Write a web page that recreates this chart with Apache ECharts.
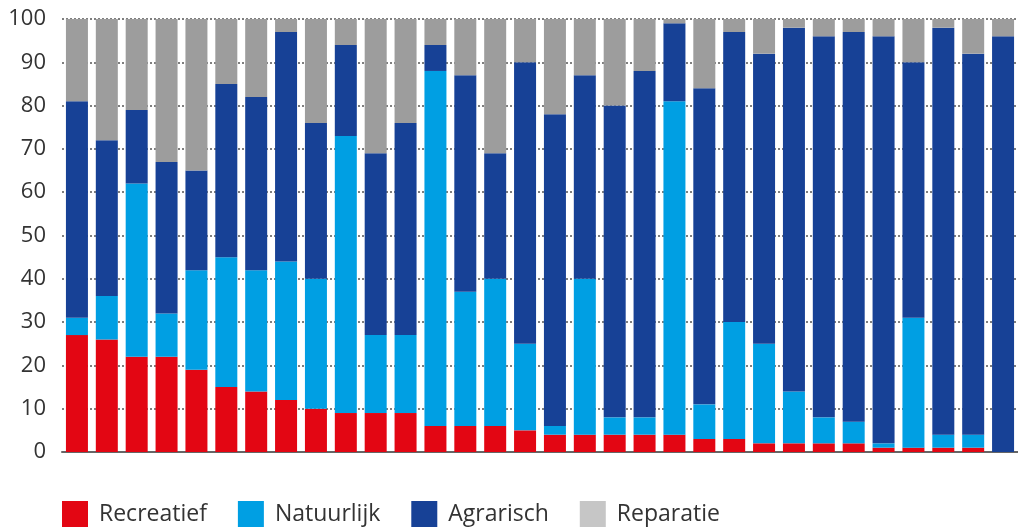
<!DOCTYPE html>
<html>
<head>
<meta charset="utf-8">
<script src="https://cdn.jsdelivr.net/npm/echarts@6/dist/echarts.min.js"></script>
<style>
  html, body { margin: 0; padding: 0; background: #fff; }
  #chart { width: 1018px; height: 531px; }
</style>
</head>
<body>
<div id="chart"></div>
<script>
  // 32 gebieden, percentages per bestemming
  var categories = ['1', '2', '3', '4', '5', '6', '7', '8', '9', '10', '11', '12', '13', '14', '15', '16',
    '17', '18', '19', '20', '21', '22', '23', '24', '25', '26', '27', '28', '29', '30', '31', '32']
  var recreatief = [27, 26, 22, 22, 19, 15, 14, 12, 10, 9, 9, 9, 6, 6, 6, 5,
    4, 4, 4, 4, 4, 3, 3, 2, 2, 2, 2, 1, 1, 1, 1, 0]
  var natuurlijk = [4, 10, 40, 10, 23, 30, 28, 32, 30, 64, 18, 18, 82, 31, 34, 20,
    2, 36, 4, 4, 77, 8, 27, 23, 12, 6, 5, 1, 30, 3, 3, 0]
  var agrarisch = [50, 36, 17, 35, 23, 40, 40, 53, 36, 21, 42, 49, 6, 50, 29, 65,
    72, 47, 72, 80, 18, 73, 67, 67, 84, 88, 90, 94, 59, 94, 88, 96]
  var reparatie = [19, 28, 21, 33, 35, 15, 18, 3, 24, 6, 31, 24, 6, 13, 31, 10,
    22, 13, 20, 12, 1, 16, 3, 8, 2, 4, 3, 4, 10, 2, 8, 4]
  var yTicks = [0, 10, 20, 30, 40, 50, 60, 70, 80, 90, 100]

  var colors = {
    recreatief: '#e30613',
    natuurlijk: '#009fe3',
    agrarisch: '#174196',
    reparatie: '#9d9d9d',
    reparatieLegend: '#c6c6c6'
  }

  function barSeries (name, data, color) {
    return {
      name: name,
      type: 'bar',
      stack: 'totaal',
      barWidth: 22,
      data: data,
      itemStyle: { color: color },
      emphasis: { disabled: true }
    }
  }

  var chart = echarts.init(document.getElementById('chart'))
  chart.setOption({
    animation: false,
    textStyle: { fontFamily: 'Open Sans' },
    grid: { left: 62, right: -7, top: 19, bottom: 79 },
    legend: {
      left: 57,
      top: 496,
      itemWidth: 26,
      itemHeight: 26,
      itemGap: 31,
      icon: 'rect',
      textStyle: { fontSize: 23, color: '#333', padding: [12, 0, 0, 6] },
      data: [
        { name: 'Recreatief' },
        { name: 'Natuurlijk' },
        { name: 'Agrarisch' },
        { name: 'Reparatie', itemStyle: { color: colors.reparatieLegend } }
      ]
    },
    xAxis: {
      type: 'category',
      data: categories,
      axisLine: { lineStyle: { color: '#666', width: 2 } },
      axisTick: { show: false },
      axisLabel: { show: false }
    },
    yAxis: {
      type: 'value',
      min: yTicks[0],
      max: yTicks[yTicks.length - 1],
      interval: 10,
      axisLine: { show: false },
      axisTick: { show: false },
      axisLabel: { fontSize: 22, color: '#333', margin: 16 },
      splitLine: { lineStyle: { color: '#555', type: [2, 2], width: 1.5 } }
    },
    series: [
      barSeries('Recreatief', recreatief, colors.recreatief),
      barSeries('Natuurlijk', natuurlijk, colors.natuurlijk),
      barSeries('Agrarisch', agrarisch, colors.agrarisch),
      barSeries('Reparatie', reparatie, colors.reparatie)
    ]
  })
</script>
</body>
</html>
